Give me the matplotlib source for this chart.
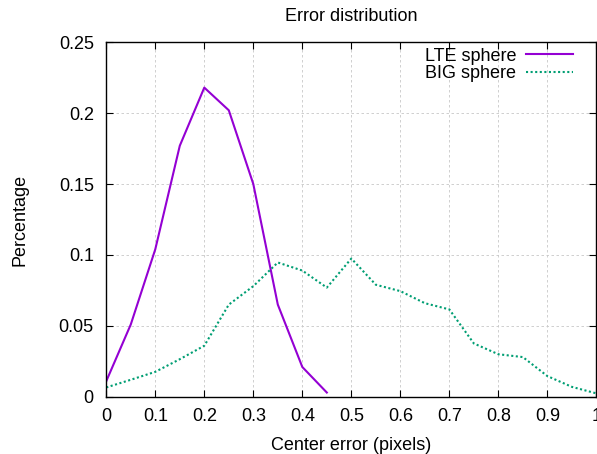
import numpy as np
import matplotlib
matplotlib.use("Agg")
import matplotlib.pyplot as plt

plt.rcParams["font.family"] = ["Liberation Sans", "DejaVu Sans"]

x_lte = [0, 0.05, 0.1, 0.15, 0.2, 0.25, 0.3, 0.35, 0.4, 0.45]
y_lte = [0.011, 0.051, 0.104, 0.177, 0.218, 0.202, 0.150, 0.065, 0.021, 0.003]

x_big = [0, 0.05, 0.1, 0.15, 0.2, 0.25, 0.3, 0.35, 0.4, 0.45, 0.5,
         0.55, 0.6, 0.65, 0.7, 0.75, 0.8, 0.85, 0.9, 0.95, 1.0]
y_big = [0.0066, 0.012, 0.0176, 0.0265, 0.036, 0.065, 0.078, 0.0947, 0.089, 0.077, 0.0975,
         0.079, 0.0745, 0.066, 0.0616, 0.0376, 0.030, 0.028, 0.0146, 0.007, 0.0024]

x_ticks = [0, 0.1, 0.2, 0.3, 0.4, 0.5, 0.6, 0.7, 0.8, 0.9, 1.0]
x_labels = ["0", "0.1", "0.2", "0.3", "0.4", "0.5", "0.6", "0.7", "0.8", "0.9", "1"]
y_ticks = [0, 0.05, 0.1, 0.15, 0.2, 0.25]
y_labels = ["0", "0.05", "0.1", "0.15", "0.2", "0.25"]

fs = 13

fig = plt.figure(figsize=(5.97, 4.54), dpi=100)
ax = fig.add_axes([0.178, 0.126, 0.821, 0.781])

ax.plot(x_lte, y_lte, color="#9400D3", lw=1.5, label="LTE sphere")
ax.plot(x_big, y_big, color="#009E73", lw=1.5, linestyle=(0, (1, 1.2)), label="BIG sphere")

ax.set_xlim(0, 1)
ax.set_ylim(0, 0.25)
ax.set_xticks(x_ticks)
ax.set_xticklabels(x_labels)
ax.set_yticks(y_ticks)
ax.set_yticklabels(y_labels)
ax.tick_params(direction="in", top=True, right=True, labelsize=fs, length=5, width=0.8)
ax.tick_params(axis="x", pad=8)
ax.tick_params(axis="y", pad=9)
ax.grid(True, color="#c8c8c8", linestyle=(0, (3, 3)), lw=0.6)
for s in ax.spines.values():
    s.set_linewidth(1.0)

ax.set_title("Error distribution", fontsize=fs, pad=15.5)
ax.set_xlabel("Center error (pixels)", fontsize=fs, labelpad=9)
ax.set_ylabel("Percentage", fontsize=fs, labelpad=22)

ax.legend(loc="upper right", bbox_to_anchor=(0.953, 0.985), frameon=False, markerfirst=False,
          fontsize=fs, handlelength=2.6, borderpad=0, borderaxespad=0,
          labelspacing=0.05, handletextpad=0.55)

fig.savefig("out.png", dpi=100)
